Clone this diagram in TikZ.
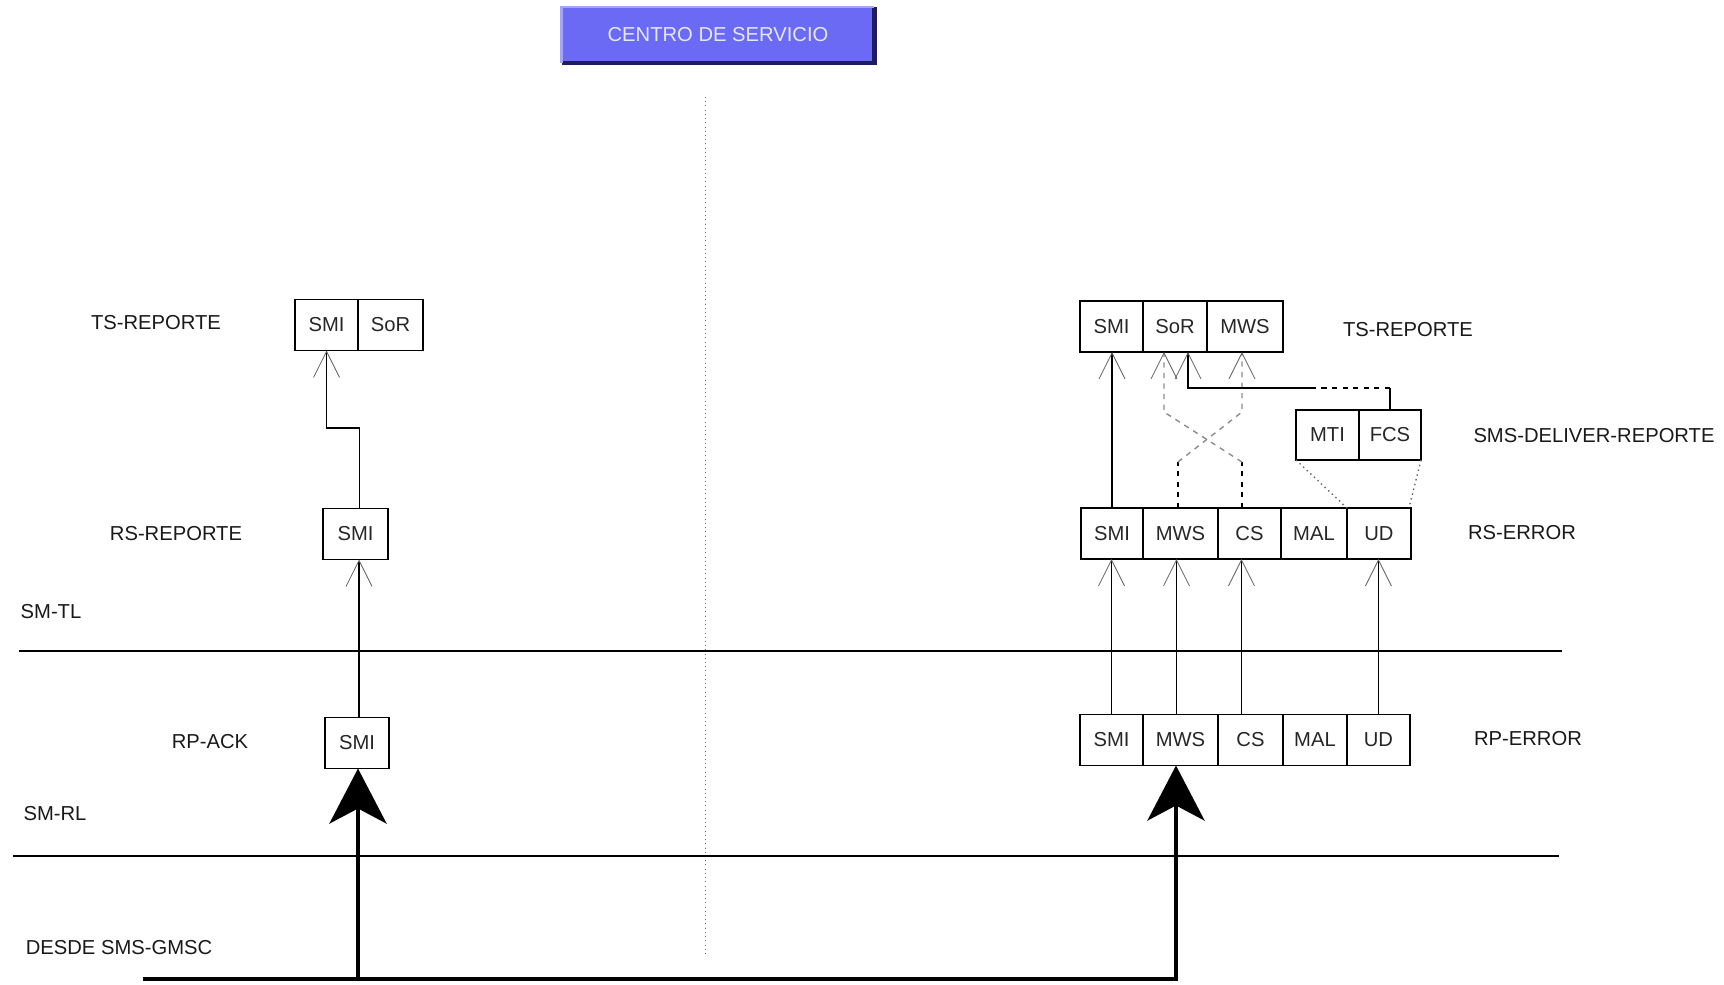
\documentclass[tikz,border=0pt]{standalone}
\usepackage{fontspec}
\setmainfont{Liberation Sans}
\usepackage{tikz}
\usetikzlibrary{arrows.meta,positioning}
\definecolor{csblue}{HTML}{6A6AF4}
\definecolor{csnavy}{HTML}{1C1C5E}
\definecolor{cstext}{HTML}{E6E6FF}
\tikzset{
  fld/.style={draw,line width=1pt,outer sep=0pt,inner sep=0pt,minimum width=#1cm,minimum height=1.02cm,text=black!85,font=\fontsize{11.5}{13}\selectfont},
  lbl/.style={text=black!90,font=\fontsize{11.5}{13}\selectfont},
  up/.style={-{Straight Barb[length=0.52cm,width=0.52cm,line width=0.5pt,color=black!60]},line width=0.8pt},
  xing/.style={dashed,line width=0.8pt},
  feed/.style={line width=2.8pt,-{Stealth[length=1.1cm,width=1.14cm,inset=0.3cm]}},
}

\begin{document}
\begin{tikzpicture}[x=0.02cm,y=-0.02cm]
  \useasboundingbox (0,0) rectangle (1724,984);
  % centro de servicio
  \node[fill=csblue,text=cstext,minimum width=6.24cm,minimum height=1.1cm,font=\fontsize{11.5}{13}\selectfont] (ctr) at (718,35) {CENTRO DE SERVICIO};
  \draw[csnavy,line width=2.5pt] (ctr.south west) -- (ctr.south east) -- (ctr.north east);
  \draw[csblue!60!white,line width=1.5pt] (ctr.south west) -- (ctr.north west) -- (ctr.north east);
  \draw[dotted,black!60] (705,97) -- (705,954);
  \draw[line width=0.8pt] (19,651) -- (1562,651);
  \draw[line width=0.8pt] (13,856) -- (1559,856);

  % capas
  \node[lbl] (tsL) at (156,323) {TS-REPORTE};
  \node[lbl] (rsL) at (176,534) {RS-REPORTE};
  \node[lbl] (smtl) at (51,612) {SM-TL};
  \node[lbl] (rpL) at (210,742) {RP-ACK};
  \node[lbl] (smrl) at (55,814) {SM-RL};
  \node[lbl] (gmsc) at (119,948) {DESDE SMS-GMSC};
  \node[lbl] (tsR) at (1408,330) {TS-REPORTE};
  \node[lbl] (dlvR) at (1594,436) {SMS-DELIVER-REPORTE};
  \node[lbl] (rsR) at (1522,533) {RS-ERROR};
  \node[lbl] (rpR) at (1528,739) {RP-ERROR};

  % lado izquierdo
  \node[fld=1.26] (tsSMIl) at (326.5,325) {SMI};
  \node[fld=1.3,right=0pt of tsSMIl] (tsSoRl) {SoR};
  \node[fld=1.3] (rsSMIl) at (355.5,534) {SMI};
  \node[fld=1.28] (rpSMIl) at (357,743) {SMI};
  \coordinate (kneeL) at (0,428);
  \draw[up] ([xshift=0.04cm]rpSMIl.north) -- ([xshift=0.04cm]rpSMIl.north |- rsSMIl.south);
  \draw[up] ([xshift=0.08cm]rsSMIl.north) -- ([xshift=0.08cm]rsSMIl.north |- kneeL) -| (tsSMIl.south);

  % lado derecho
  \node[fld=1.26] (tsSMIr) at (1111.5,326.5) {SMI};
  \node[fld=1.28,right=0pt of tsSMIr] (tsSoRr) {SoR};
  \node[fld=1.52,right=0pt of tsSoRr] (tsMWSr) {MWS};
  \node[fld=1.26,minimum height=1cm] (mti) at (1327.5,435) {MTI};
  \node[fld=1.24,minimum height=1cm,right=0pt of mti] (fcs) {FCS};
  \node[fld=1.24] (rsSMIr) at (1112,533.5) {SMI};
  \node[fld=1.5,right=0pt of rsSMIr] (rsMWSr) {MWS};
  \node[fld=1.26,right=0pt of rsMWSr] (rsCSr) {CS};
  \node[fld=1.32,right=0pt of rsCSr] (rsMALr) {MAL};
  \node[fld=1.28,right=0pt of rsMALr] (rsUDr) {UD};
  \node[fld=1.26] (rpSMIr) at (1111.5,740) {SMI};
  \node[fld=1.5,right=0pt of rpSMIr] (rpMWSr) {MWS};
  \node[fld=1.3,right=0pt of rpMWSr] (rpCSr) {CS};
  \node[fld=1.28,right=0pt of rpCSr] (rpMALr) {MAL};
  \node[fld=1.26,right=0pt of rpMALr] (rpUDr) {UD};

  \draw[up] (rpSMIr.north) -- (rpSMIr.north |- rsSMIr.south);
  \draw[up] ([xshift=-0.08cm]rpMWSr.north) -- ([xshift=-0.08cm]rpMWSr.north |- rsMWSr.south);
  \draw[up] ([xshift=-0.18cm]rpCSr.north) -- ([xshift=-0.18cm]rpCSr.north |- rsCSr.south);
  \draw[up] (rpUDr.north) -- (rpUDr.north |- rsUDr.south);
  \draw[up] (rsSMIr.north) -- (rsSMIr.north |- tsSMIr.south);

  % cruce MWS / CS
  \coordinate (yb) at (0,412);
  \draw[xing] ([xshift=-0.05cm]rsMWSr.north) -- ++(0,-46) coordinate (xa);
  \draw[xing,black!45,up] (xa) -- ([xshift=-0.06cm]tsMWSr.south |- yb) -- ([xshift=-0.06cm]tsMWSr.south);
  \draw[xing] ([xshift=-0.15cm]rsCSr.north) -- ++(0,-46) coordinate (xc);
  \draw[xing,black!45,up] (xc) -- ([xshift=-0.22cm]tsSoRr.south |- yb) -- ([xshift=-0.22cm]tsSoRr.south);

  % FCS
  \draw[line width=0.8pt] (fcs.north) -- ++(0,-22) coordinate (fa);
  \draw[dashed,line width=0.8pt] (fa) -- ++(-77,0) coordinate (fb);
  \draw[up] (fb) -| ([xshift=0.26cm]tsSoRr.south);
  \draw[dotted,black!60,line width=0.8pt] (mti.south west) -- (rsMALr.north east);
  \draw[dotted,black!60,line width=0.8pt] (fcs.south east) -- ([xshift=-0.04cm]rsUDr.north east);

  % desde SMS-GMSC
  \coordinate (src) at (143,979);
  \draw[feed] (src) -| ([xshift=-0.09cm]rpMWSr.south);
  \draw[feed] ([xshift=0.02cm]rpSMIl.south |- src) -- ([xshift=0.02cm]rpSMIl.south);
\end{tikzpicture}
\end{document}
